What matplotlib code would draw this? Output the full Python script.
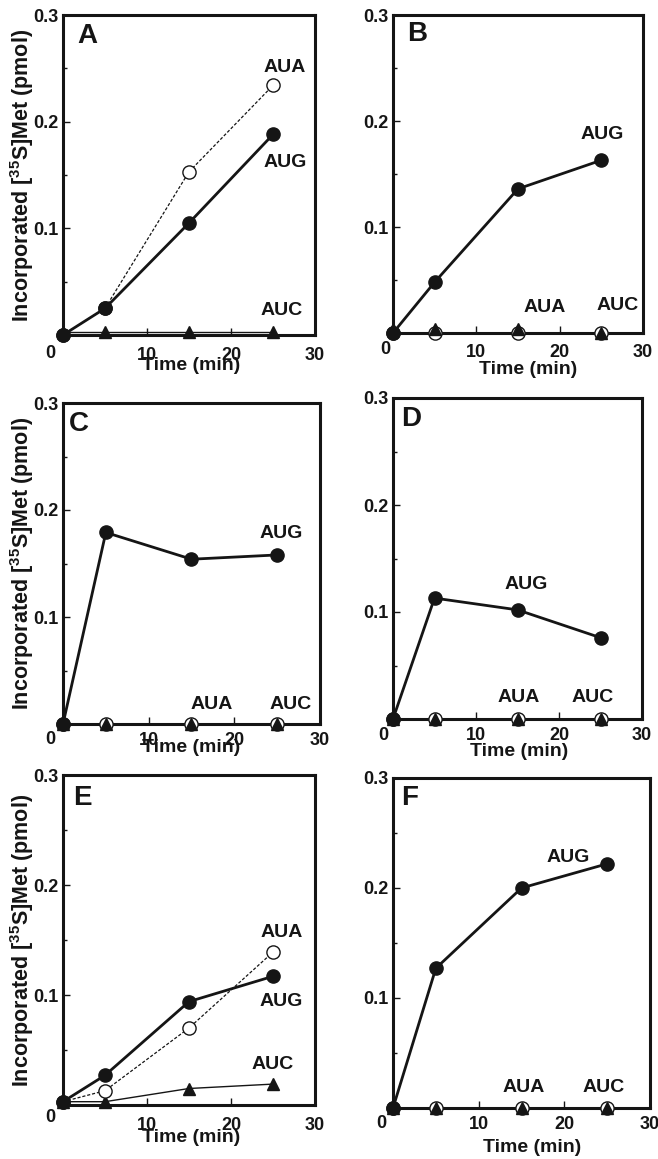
import matplotlib
matplotlib.use("Agg")
import matplotlib.pyplot as plt
from matplotlib.ticker import MultipleLocator

plt.rcParams['font.family'] = ['Liberation Sans', 'DejaVu Sans']
plt.rcParams['font.weight'] = 'bold'
plt.rcParams['mathtext.fontset'] = 'custom'
plt.rcParams['mathtext.rm'] = 'Liberation Sans:bold'
plt.rcParams['mathtext.bf'] = 'Liberation Sans:bold'
plt.rcParams['mathtext.it'] = 'Liberation Sans:bold'

# ---- data ----
time = [0, 5, 15, 25]

panels = ['A', 'B', 'C', 'D', 'E', 'F']

aug = {
    'A': [0.0, 0.025, 0.105, 0.188],
    'B': [0.0, 0.048, 0.136, 0.163],
    'C': [0.0, 0.179, 0.154, 0.158],
    'D': [0.0, 0.113, 0.102, 0.076],
    'E': [0.003, 0.027, 0.094, 0.117],
    'F': [0.0, 0.127, 0.200, 0.222],
}
aua = {
    'A': [0.0, 0.025, 0.153, 0.234],
    'B': [0.0, 0.0, 0.0, 0.0],
    'C': [0.0, 0.0, 0.0, 0.0],
    'D': [0.0, 0.0, 0.0, 0.0],
    'E': [0.003, 0.013, 0.070, 0.139],
    'F': [0.0, 0.0, 0.0, 0.0],
}
auc = {
    'A': [0.003, 0.003, 0.003, 0.003],
    'B': [0.004, 0.004, 0.004, 0.0],
    'C': [0.0, 0.0, 0.0, 0.0],
    'D': [0.0, 0.0, 0.0, 0.0],
    'E': [0.003, 0.003, 0.015, 0.019],
    'F': [0.0, 0.0, 0.0, 0.0],
}
aua_line = {'A': True, 'B': False, 'C': False, 'D': False, 'E': True, 'F': False}
auc_line = {'A': True, 'B': False, 'C': False, 'D': False, 'E': True, 'F': False}

# label positions (data coordinates)
labels = {
    'A': {'AUA': (26.4, 0.251), 'AUG': (26.4, 0.162), 'AUC': (26.0, 0.023)},
    'B': {'AUG': (25.1, 0.187), 'AUA': (18.2, 0.024), 'AUC': (26.9, 0.026)},
    'C': {'AUG': (25.5, 0.178), 'AUA': (17.3, 0.018), 'AUC': (26.6, 0.018)},
    'D': {'AUG': (16.1, 0.126), 'AUA': (15.2, 0.020), 'AUC': (24.0, 0.020)},
    'E': {'AUA': (26.0, 0.157), 'AUG': (26.0, 0.094), 'AUC': (25.0, 0.037)},
    'F': {'AUG': (20.4, 0.228), 'AUA': (15.2, 0.019), 'AUC': (24.6, 0.019)},
}

# ---- layout (pixels: left, right, top, bottom) ----
W, H = 658, 1159
boxes = {
    'A': (63, 315, 15, 335),
    'B': (393, 643, 15, 333),
    'C': (63, 320, 403, 724),
    'D': (393, 642, 398, 719),
    'E': (63, 315, 775, 1105),
    'F': (393, 650, 778, 1108),
}
letter_pos = {
    'A': (0.095, 0.935), 'B': (0.096, 0.94), 'C': (0.062, 0.935),
    'D': (0.072, 0.935), 'E': (0.075, 0.93), 'F': (0.066, 0.94),
}
xlabel_off = {'A': 30, 'B': 37, 'C': 24, 'D': 33, 'E': 33, 'F': 39}
xlabel_x = {'A': 0.51, 'B': 0.54, 'C': 0.5, 'D': 0.505, 'E': 0.51, 'F': 0.54}
xtick_pad = {'A': 9.0, 'B': 7.6, 'C': 6.1, 'D': 6.1, 'E': 8.3, 'F': 6.1}
zero_off = {'A': (-13, -19), 'B': (-8, -17), 'C': (-13, -15),
            'D': (-10, -17), 'E': (-13, -12), 'F': (-12, -15)}

INK = '#151515'

fig = plt.figure(figsize=(W / 100, H / 100), dpi=100)

for p in panels:
    L, R, T, B = boxes[p]
    ax = fig.add_axes([L / W, 1 - B / H, (R - L) / W, (B - T) / H])
    ax.set_xlim(0, 30)
    ax.set_ylim(0, 0.3)

    # AUA open circles
    ax.plot(time, aua[p], linestyle='--' if aua_line[p] else 'none',
            color=INK, lw=0.9, marker='o', ms=9.5, mfc='white', mec=INK,
            mew=1.0, clip_on=False, zorder=3)
    if aua_line[p]:
        ax.lines[-1].set_dashes((2.5, 1.5))
    # AUC triangles
    ax.plot(time, auc[p], linestyle='-' if auc_line[p] else 'none',
            color=INK, lw=1.0, marker='^', ms=8, mfc=INK, mec=INK,
            clip_on=False, zorder=4 if not aua_line[p] else 2.8)
    # AUG filled circles
    ax.plot(time, aug[p], linestyle='-', color=INK, lw=2.0, marker='o',
            ms=9.5, mfc=INK, mec=INK, clip_on=False, zorder=5)

    for name, (lx, ly) in labels[p].items():
        ax.text(lx, ly, name, ha='center', va='center', fontsize=14,
                fontweight='bold', color=INK)

    ax.text(letter_pos[p][0], letter_pos[p][1], p, transform=ax.transAxes,
            ha='center', va='center', fontsize=20, fontweight='bold', color=INK)

    for s in ax.spines.values():
        s.set_linewidth(2.2)
        s.set_color(INK)

    ax.set_xticks([10, 20, 30])
    ax.set_xticklabels(['10', '20', '30'])
    ax.set_yticks([0.1, 0.2, 0.3])
    ax.set_yticklabels(['0.1', '0.2', '0.3'])
    ax.yaxis.set_minor_locator(MultipleLocator(0.05))
    ax.tick_params(axis='both', which='major', direction='in', length=5,
                   width=1.0, labelsize=13, colors=INK)
    ax.tick_params(axis='x', which='major', pad=xtick_pad[p])
    ax.tick_params(axis='y', which='major', pad=3)
    ax.tick_params(axis='y', which='minor', direction='in', length=3,
                   width=1.0, colors=INK)
    for lab in ax.get_xticklabels() + ax.get_yticklabels():
        lab.set_fontweight('bold')

    # corner zero
    ax.annotate('0', xy=(0, 0), xycoords='data', xytext=zero_off[p],
                textcoords='offset pixels', ha='center', va='center',
                fontsize=13, fontweight='bold', color=INK, annotation_clip=False)

    ax.set_xlabel('Time (min)', fontsize=14, fontweight='bold', color=INK)
    ax.xaxis.label.set_va('center')
    ax.xaxis.set_label_coords(xlabel_x[p], -xlabel_off[p] / (B - T))

    if p in ('A', 'C', 'E'):
        ax.set_ylabel(r'Incorporated [$^{35}$S]Met (pmol)', fontsize=15.5,
                      fontweight='bold', color=INK)
        ax.yaxis.label.set_va('center')
        ax.yaxis.set_label_coords(-(L - 22) / (R - L), 0.5)

fig.savefig('out.png', dpi=100)
